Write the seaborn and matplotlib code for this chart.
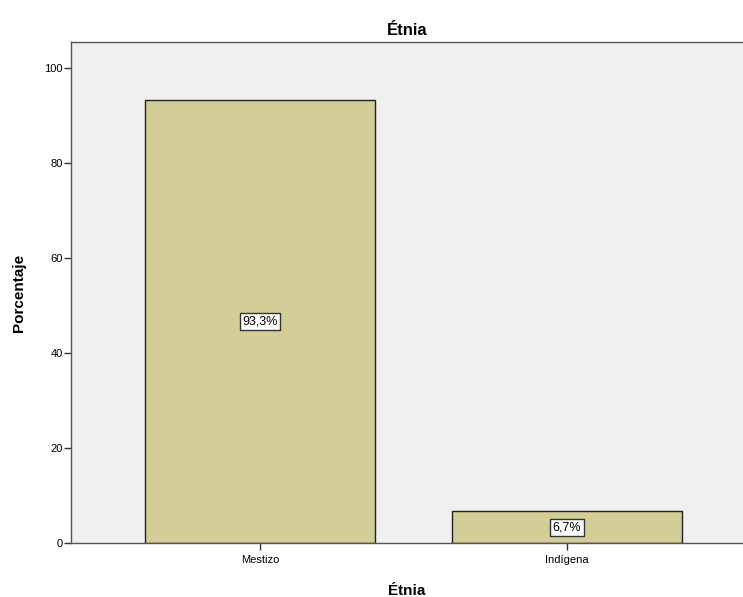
import matplotlib
matplotlib.use("Agg")
import matplotlib.pyplot as plt
import seaborn as sns
import pandas as pd

# Data
categories = ["Mestizo", "Indígena"]
percentages = [93.3, 6.7]
value_labels = ["93,3%", "6,7%"]

sns.set_theme(style="white")
plt.rcParams["font.family"] = ["Liberation Sans", "DejaVu Sans"]
plt.rcParams.update({
    "text.color": "black",
    "axes.labelcolor": "black",
    "xtick.color": "black",
    "ytick.color": "black",
})

df = pd.DataFrame({"Etnia": categories, "Porcentaje": percentages})

fig = plt.figure(figsize=(7.43, 5.97), dpi=100)
ax = fig.add_axes([0.0956, 0.0905, 0.9044, 0.8391])
ax.set_facecolor("#f0f0f0")

sns.barplot(data=df, x="Etnia", y="Porcentaje", ax=ax, color="#d3ce97",
            width=0.75, edgecolor="#222222", linewidth=1, saturation=1)

for i, (val, lab) in enumerate(zip(percentages, value_labels)):
    ax.text(i, val / 2, lab, ha="center", va="center", fontsize=9,
            color="black",
            bbox=dict(boxstyle="square,pad=0.2", facecolor="white",
                      edgecolor="#333333", linewidth=1))

ax.set_ylim(0, 105.5)
ax.set_xlim(-0.616, 1.573)
ax.set_yticks([0, 20, 40, 60, 80, 100])

for side in ["top", "left", "bottom"]:
    ax.spines[side].set_visible(True)
    ax.spines[side].set_color("#555555")
    ax.spines[side].set_linewidth(1)
ax.spines["right"].set_visible(False)

ax.tick_params(axis="both", which="major", direction="out", length=5,
               width=1, color="#333333", labelsize=8, pad=1, left=True,
               bottom=True)
ax.tick_params(axis="x", pad=4)

ax.set_title("Étnia", fontsize=12, fontweight="bold", pad=5, color="black")
ax.set_xlabel("Étnia", fontsize=11, fontweight="bold", labelpad=13)
ax.set_ylabel("Porcentaje", fontsize=11, fontweight="bold", labelpad=13)

fig.savefig("out.png", dpi=100, facecolor="white")
